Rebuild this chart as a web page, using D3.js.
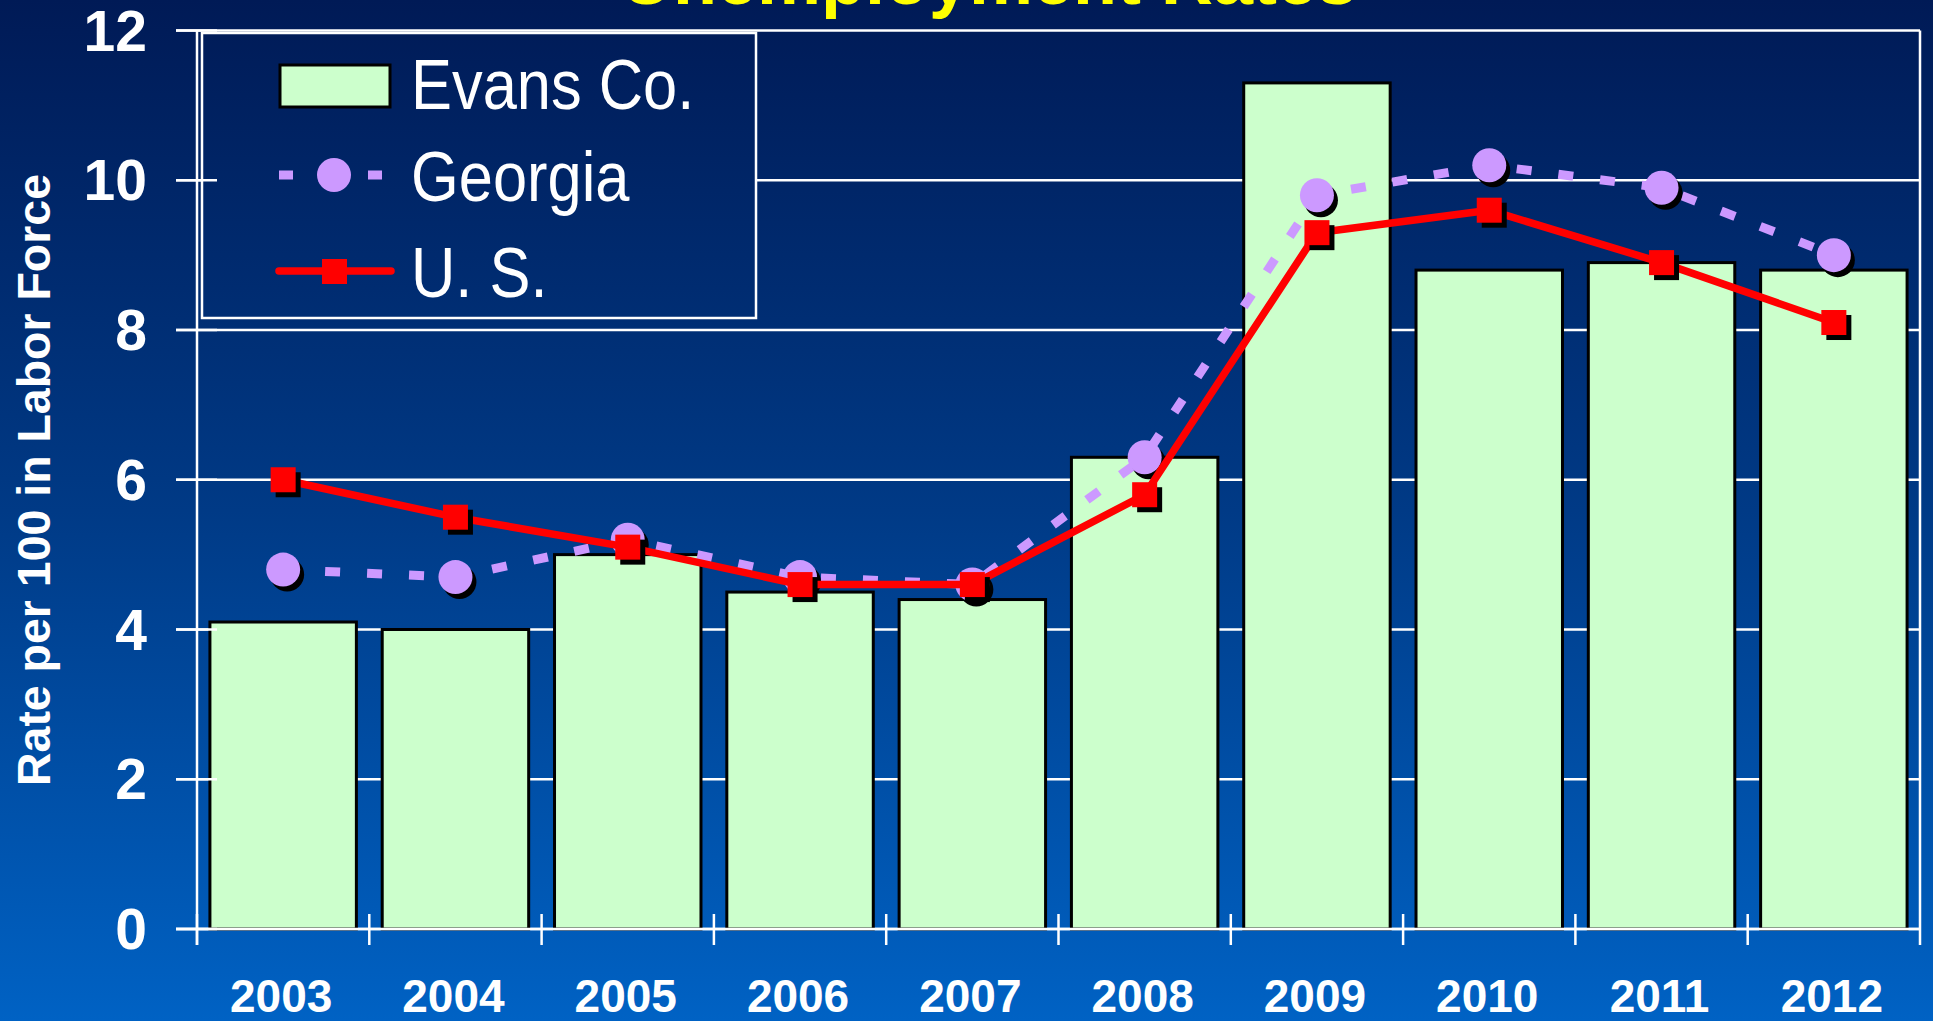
<!DOCTYPE html>
<html>
<head>
<meta charset="utf-8">
<script src="https://cdn.jsdelivr.net/npm/d3@7"></script>
<style>
  body { margin: 0; background: #001c58; }
  text { font-family: "Liberation Sans", Arial, sans-serif; }
</style>
</head>
<body>
<div id="chart"></div>
<script>
// data
var years = ["2003", "2004", "2005", "2006", "2007", "2008", "2009", "2010", "2011", "2012"];
var evans = [4.1, 4.0, 5.0, 4.5, 4.4, 6.3, 11.3, 8.8, 8.9, 8.8];
var georgia = [4.8, 4.7, 5.2, 4.7, 4.6, 6.3, 9.8, 10.2, 9.9, 9.0];
var us = [6.0, 5.5, 5.1, 4.6, 4.6, 5.8, 9.3, 9.6, 8.9, 8.1];
var yTicks = [0, 2, 4, 6, 8, 10, 12];
var seriesNames = ["Evans Co.", "Georgia", "U. S."];

var svgWidth = 1933;
var svgHeight = 1021;

var plotLeft = 197, plotRight = 1920, plotTop = 30.5, plotBottom = 929;

var svg = d3.select("#chart")
  .append("svg")
  .attr("width", svgWidth)
  .attr("height", svgHeight);

// background gradient, also reused for the legend box
var defs = svg.append("defs");
var grad = defs.append("linearGradient")
  .attr("id", "bg")
  .attr("gradientUnits", "userSpaceOnUse")
  .attr("x1", 0).attr("y1", 0)
  .attr("x2", 0).attr("y2", svgHeight);
grad.append("stop").attr("offset", "0%").attr("stop-color", "#001a56");
grad.append("stop").attr("offset", "50%").attr("stop-color", "#003a86");
grad.append("stop").attr("offset", "100%").attr("stop-color", "#0062c4");

svg.append("rect")
  .attr("width", svgWidth)
  .attr("height", svgHeight)
  .attr("fill", "url(#bg)");

// scales
var x = d3.scaleBand()
  .domain(years)
  .range([plotLeft, plotRight])
  .padding(0);

var y = d3.scaleLinear()
  .domain([0, 12])
  .range([plotBottom, plotTop]);

var bw = x.bandwidth();
var cx = function(i) { return x(years[i]) + bw / 2; };

// gridlines
svg.append("g")
  .selectAll("line")
  .data(yTicks)
  .enter()
  .append("line")
  .attr("x1", 176)
  .attr("x2", plotRight)
  .attr("y1", function(d) { return y(d); })
  .attr("y2", function(d) { return y(d); })
  .attr("stroke", "white")
  .attr("stroke-width", 2.5);

// bars
svg.append("g")
  .selectAll("rect")
  .data(evans)
  .enter()
  .append("rect")
  .attr("x", function(d, i) { return x(years[i]) + bw * 0.075; })
  .attr("width", bw * 0.85)
  .attr("y", function(d) { return y(d); })
  .attr("height", function(d) { return y(0) - y(d); })
  .attr("fill", "#ccffcc")
  .attr("stroke", "black")
  .attr("stroke-width", 3);

// Georgia line
var line = d3.line()
  .x(function(d, i) { return cx(i); })
  .y(function(d) { return y(d); });

svg.append("path")
  .datum(georgia)
  .attr("d", line)
  .attr("fill", "none")
  .attr("stroke", "#cc99ff")
  .attr("stroke-width", 9)
  .attr("stroke-dasharray", "15,27");

var gMarks = svg.append("g");
gMarks.selectAll("ellipse.shadow")
  .data(georgia)
  .enter()
  .append("ellipse")
  .attr("class", "shadow")
  .attr("cx", function(d, i) { return cx(i) + 4; })
  .attr("cy", function(d) { return y(d) + 5; })
  .attr("rx", 17).attr("ry", 17)
  .attr("fill", "black");
gMarks.selectAll("ellipse.dot")
  .data(georgia)
  .enter()
  .append("ellipse")
  .attr("class", "dot")
  .attr("cx", function(d, i) { return cx(i); })
  .attr("cy", function(d) { return y(d); })
  .attr("rx", 17).attr("ry", 17)
  .attr("fill", "#cc99ff");

// U.S. line
svg.append("path")
  .datum(us)
  .attr("d", line)
  .attr("fill", "none")
  .attr("stroke", "red")
  .attr("stroke-width", 7.5)
  .attr("stroke-linejoin", "round");

var uMarks = svg.append("g");
uMarks.selectAll("rect.shadow")
  .data(us)
  .enter()
  .append("rect")
  .attr("class", "shadow")
  .attr("x", function(d, i) { return cx(i) - 12.5 + 5; })
  .attr("y", function(d) { return y(d) - 12.5 + 5; })
  .attr("width", 25).attr("height", 25)
  .attr("fill", "black");
uMarks.selectAll("rect.sq")
  .data(us)
  .enter()
  .append("rect")
  .attr("class", "sq")
  .attr("x", function(d, i) { return cx(i) - 12.5; })
  .attr("y", function(d) { return y(d) - 12.5; })
  .attr("width", 25).attr("height", 25)
  .attr("fill", "red");

// legend
var legend = svg.append("g");
legend.append("rect")
  .attr("x", 202).attr("y", 33)
  .attr("width", 554).attr("height", 285)
  .attr("fill", "url(#bg)")
  .attr("stroke", "white")
  .attr("stroke-width", 2.5);

legend.append("rect")
  .attr("x", 280).attr("y", 65)
  .attr("width", 110).attr("height", 42)
  .attr("fill", "#ccffcc")
  .attr("stroke", "black")
  .attr("stroke-width", 3);

legend.append("line")
  .attr("x1", 279).attr("x2", 382)
  .attr("y1", 175).attr("y2", 175)
  .attr("stroke", "#cc99ff")
  .attr("stroke-width", 9)
  .attr("stroke-dasharray", "14,75");
legend.append("circle")
  .attr("cx", 334).attr("cy", 175).attr("r", 17)
  .attr("fill", "#cc99ff");

legend.append("line")
  .attr("x1", 279).attr("x2", 391)
  .attr("y1", 271).attr("y2", 271)
  .attr("stroke", "red")
  .attr("stroke-width", 7.5)
  .attr("stroke-linecap", "round");
legend.append("rect")
  .attr("x", 322).attr("y", 259)
  .attr("width", 25).attr("height", 25)
  .attr("fill", "red");

// narrow look: squeeze the regular face horizontally
legend.selectAll("text")
  .data(seriesNames)
  .enter()
  .append("text")
  .attr("transform", function(d, i) {
    return "translate(411," + [109, 201, 297][i] + ") scale(0.865,1)";
  })
  .attr("font-size", 71)
  .attr("fill", "white")
  .text(function(d) { return d; });

// axes lines and ticks
var axes = svg.append("g").attr("stroke", "white").attr("stroke-width", 2.5);
axes.append("line").attr("x1", plotLeft).attr("x2", plotLeft).attr("y1", plotTop).attr("y2", 945);
axes.append("line").attr("x1", plotRight).attr("x2", plotRight).attr("y1", plotTop).attr("y2", 945);
axes.append("line").attr("x1", 176).attr("x2", plotRight).attr("y1", y(0)).attr("y2", y(0));

axes.selectAll("line.ytick")
  .data(yTicks)
  .enter()
  .append("line")
  .attr("class", "ytick")
  .attr("x1", 176).attr("x2", 217)
  .attr("y1", function(d) { return y(d); })
  .attr("y2", function(d) { return y(d); });

axes.selectAll("line.xtick")
  .data(years)
  .enter()
  .append("line")
  .attr("class", "xtick")
  .attr("x1", function(d) { return x(d); })
  .attr("x2", function(d) { return x(d); })
  .attr("y1", 914).attr("y2", 945);

// tick labels
svg.append("g")
  .selectAll("text")
  .data(yTicks)
  .enter()
  .append("text")
  .attr("x", 147)
  .attr("y", function(d) { return y(d) + 20; })
  .attr("text-anchor", "end")
  .attr("font-size", 57)
  .attr("font-weight", "bold")
  .attr("fill", "white")
  .text(function(d) { return d; });

svg.append("g")
  .selectAll("text")
  .data(years)
  .enter()
  .append("text")
  .attr("x", function(d) { return x(d) + bw / 2 - 2; })
  .attr("y", 1012)
  .attr("text-anchor", "middle")
  .attr("font-size", 46)
  .attr("font-weight", "bold")
  .attr("fill", "white")
  .text(function(d) { return d; });

// axis title
svg.append("text")
  .attr("transform", "translate(50, 480) rotate(-90)")
  .attr("text-anchor", "middle")
  .attr("font-size", 47)
  .attr("font-weight", "bold")
  .attr("fill", "white")
  .attr("textLength", 612)
  .attr("lengthAdjust", "spacingAndGlyphs")
  .text("Rate per 100 in Labor Force");

// chart title, cut off by the top edge
svg.append("text")
  .attr("x", 989)
  .attr("y", 4)
  .attr("text-anchor", "middle")
  .attr("font-size", 72)
  .attr("font-weight", "bold")
  .attr("fill", "#ffff00")
  .text("Unemployment Rates");
</script>
</body>
</html>
